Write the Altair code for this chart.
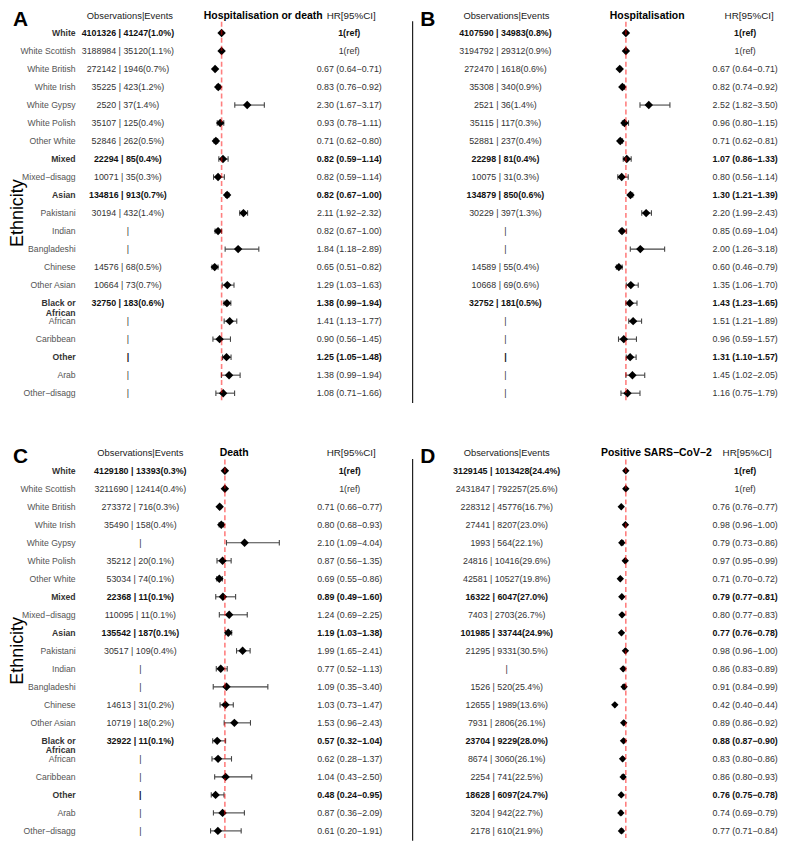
import altair as alt
import pandas as pd

# ---------------- data ----------------
labels = ["White", "White Scottish", "White British", "White Irish", "White Gypsy",
          "White Polish", "Other White", "Mixed", "Mixed\u2212disagg", "Asian",
          "Pakistani", "Indian", "Bangladeshi", "Chinese", "Other Asian",
          "Black or\nAfrican", "African", "Caribbean", "Other", "Arab", "Other\u2212disagg"]
bold_rows = [0, 7, 9, 15, 18]

# Panel A: Hospitalisation or death
A_obs = ["4101326 | 41247(1.0%)", "3188984 | 35120(1.1%)", "272142 | 1946(0.7%)",
         "35225 | 423(1.2%)", "2520 | 37(1.4%)", "35107 | 125(0.4%)", "52846 | 262(0.5%)",
         "22294 | 85(0.4%)", "10071 | 35(0.3%)", "134816 | 913(0.7%)", "30194 | 432(1.4%)",
         "|", "|", "14576 | 68(0.5%)", "10664 | 73(0.7%)", "32750 | 183(0.6%)",
         "|", "|", "|", "|", "|"]
A_hr = ["1(ref)", "1(ref)", "0.67 (0.64\u22120.71)", "0.83 (0.76\u22120.92)", "2.30 (1.67\u22123.17)",
        "0.93 (0.78\u22121.11)", "0.71 (0.62\u22120.80)", "0.82 (0.59\u22121.14)", "0.82 (0.59\u22121.14)",
        "0.82 (0.67\u22121.00)", "2.11 (1.92\u22122.32)", "0.82 (0.67\u22121.00)", "1.84 (1.18\u22122.89)",
        "0.65 (0.51\u22120.82)", "1.29 (1.03\u22121.63)", "1.38 (0.99\u22121.94)", "1.41 (1.13\u22121.77)",
        "0.90 (0.56\u22121.45)", "1.25 (1.05\u22121.48)", "1.38 (0.99\u22121.94)", "1.08 (0.71\u22121.66)"]
A_est = [1.00, 1.00, 0.67, 0.83, 2.30, 0.93, 0.71, 1.07, 0.82, 1.28, 2.11, 0.82, 1.84, 0.65, 1.29, 1.27, 1.41, 0.90, 1.25, 1.38, 1.08]
A_lo = [None, None, 0.64, 0.76, 1.67, 0.78, 0.62, 0.86, 0.59, 1.20, 1.92, 0.67, 1.18, 0.51, 1.03, 1.12, 1.13, 0.56, 1.05, 0.99, 0.71]
A_hi = [None, None, 0.71, 0.92, 3.17, 1.11, 0.80, 1.33, 1.14, 1.37, 2.32, 1.00, 2.89, 0.82, 1.63, 1.47, 1.77, 1.45, 1.48, 1.94, 1.66]

# Panel B: Hospitalisation
B_obs = ["4107590 | 34983(0.8%)", "3194792 | 29312(0.9%)", "272470 | 1618(0.6%)",
         "35308 | 340(0.9%)", "2521 | 36(1.4%)", "35115 | 117(0.3%)", "52881 | 237(0.4%)",
         "22298 | 81(0.4%)", "10075 | 31(0.3%)", "134879 | 850(0.6%)", "30229 | 397(1.3%)",
         "|", "|", "14589 | 55(0.4%)", "10668 | 69(0.6%)", "32752 | 181(0.5%)",
         "|", "|", "|", "|", "|"]
B_hr = ["1(ref)", "1(ref)", "0.67 (0.64\u22120.71)", "0.82 (0.74\u22120.92)", "2.52 (1.82\u22123.50)",
        "0.96 (0.80\u22121.15)", "0.71 (0.62\u22120.81)", "1.07 (0.86\u22121.33)", "0.80 (0.56\u22121.14)",
        "1.30 (1.21\u22121.39)", "2.20 (1.99\u22122.43)", "0.85 (0.69\u22121.04)", "2.00 (1.26\u22123.18)",
        "0.60 (0.46\u22120.79)", "1.35 (1.06\u22121.70)", "1.43 (1.23\u22121.65)", "1.51 (1.21\u22121.89)",
        "0.96 (0.59\u22121.57)", "1.31 (1.10\u22121.57)", "1.45 (1.02\u22122.05)", "1.16 (0.75\u22121.79)"]
B_est = [1.00, 1.00, 0.65, 0.80, 2.30, 0.92, 0.68, 1.05, 0.76, 1.26, 2.15, 0.78, 1.82, 0.60, 1.28, 1.22, 1.41, 0.88, 1.24, 1.37, 1.09]
B_lo = [None, None, 0.64, 0.74, 1.80, 0.80, 0.62, 0.85, 0.54, 1.21, 1.90, 0.69, 1.25, 0.46, 1.02, 1.00, 1.16, 0.58, 1.02, 1.00, 0.72]
B_hi = [None, None, 0.71, 0.92, 3.50, 1.15, 0.81, 1.30, 1.13, 1.39, 2.45, 1.04, 3.20, 0.79, 1.70, 1.63, 1.89, 1.60, 1.58, 2.07, 1.80]

# Panel C: Death
C_obs = ["4129180 | 13393(0.3%)", "3211690 | 12414(0.4%)", "273372 | 716(0.3%)",
         "35490 | 158(0.4%)", "|", "35212 | 20(0.1%)", "53034 | 74(0.1%)",
         "22368 | 11(0.1%)", "110095 | 11(0.1%)", "135542 | 187(0.1%)", "30517 | 109(0.4%)",
         "|", "|", "14613 | 31(0.2%)", "10719 | 18(0.2%)", "32922 | 11(0.1%)",
         "|", "|", "|", "|", "|"]
C_hr = ["1(ref)", "1(ref)", "0.71 (0.66\u22120.77)", "0.80 (0.68\u22120.93)", "2.10 (1.09\u22124.04)",
        "0.87 (0.56\u22121.35)", "0.69 (0.55\u22120.86)", "0.89 (0.49\u22121.60)", "1.24  (0.69\u22122.25)",
        "1.19 (1.03\u22121.38)", "1.99 (1.65\u22122.41)", "0.77 (0.52\u22121.13)", "1.09 (0.35\u22123.40)",
        "1.03 (0.73\u22121.47)", "1.53 (0.96\u22122.43)", "0.57 (0.32\u22121.04)", "0.62 (0.28\u22121.37)",
        "1.04 (0.43\u22122.50)", "0.48 (0.24\u22120.95)", "0.87 (0.36\u22122.09)", "0.61 (0.20\u22121.91)"]
C_est = [1.00, 1.00, 0.71, 0.80, 2.10, 0.87, 0.69, 0.89, 1.24, 1.19, 1.99, 0.77, 1.09, 1.03, 1.53, 0.57, 0.62, 1.04, 0.48, 0.87, 0.61]
C_lo = [None, None, 0.66, 0.68, 1.09, 0.56, 0.55, 0.49, 0.69, 1.03, 1.65, 0.52, 0.35, 0.73, 0.96, 0.32, 0.28, 0.43, 0.24, 0.36, 0.20]
C_hi = [None, None, 0.77, 0.93, 4.04, 1.35, 0.86, 1.60, 2.25, 1.38, 2.41, 1.13, 3.40, 1.47, 2.43, 1.04, 1.37, 2.50, 0.95, 2.09, 1.91]

# Panel D: Positive SARS-CoV-2
D_obs = ["3129145 | 1013428(24.4%)", "2431847 | 792257(25.6%)", "228312 | 45776(16.7%)",
         "27441 | 8207(23.0%)", "1993 | 564(22.1%)", "24816 | 10416(29.6%)", "42581 | 10527(19.8%)",
         "16322 | 6047(27.0%)", "7403 | 2703(26.7%)", "101985 | 33744(24.9%)", "21295 | 9331(30.5%)",
         "|", "1526 | 520(25.4%)", "12655 | 1989(13.6%)", "7931 | 2806(26.1%)", "23704 | 9229(28.0%)",
         "8674 | 3060(26.1%)", "2254 | 741(22.5%)", "18628 | 6097(24.7%)", "3204 | 942(22.7%)",
         "2178 | 610(21.9%)"]
D_hr = ["1(ref)", "1(ref)", "0.76 (0.76\u22120.77)", "0.98 (0.96\u22121.00)", "0.79 (0.73\u22120.86)",
        "0.97 (0.95\u22120.99)", "0.71 (0.70\u22120.72)", "0.79 (0.77\u22120.81)", "0.80 (0.77\u22120.83)",
        "0.77 (0.76\u22120.78)", "0.98 (0.96\u22121.00)", "0.86 (0.83\u22120.89)", "0.91 (0.84\u22120.99)",
        "0.42 (0.40\u22120.44)", "0.89 (0.86\u22120.92)", "0.88 (0.87\u22120.90)", "0.83 (0.80\u22120.86)",
        "0.86 (0.80\u22120.93)", "0.76 (0.75\u22120.78)", "0.74 (0.69\u22120.79)", "0.77 (0.71\u22120.84)"]
D_est = [1.00, 1.00, 0.76, 0.98, 0.79, 0.97, 0.71, 0.79, 0.80, 0.77, 0.98, 0.86, 0.91, 0.42, 0.89, 0.88, 0.83, 0.86, 0.76, 0.74, 0.77]
D_lo = [None, None, 0.76, 0.96, 0.73, 0.95, 0.70, 0.77, 0.77, 0.76, 0.96, 0.83, 0.84, 0.40, 0.86, 0.87, 0.80, 0.80, 0.75, 0.69, 0.71]
D_hi = [None, None, 0.77, 1.00, 0.86, 0.99, 0.72, 0.81, 0.83, 0.78, 1.00, 0.89, 0.99, 0.44, 0.92, 0.90, 0.86, 0.93, 0.78, 0.79, 0.84]

# ---------------- layout / style ----------------
FONT = "Liberation Sans"
W, H = 776, 834
STEP = 18.1
N = len(labels)
TILT = 0.01  # tiny rotation -> greyscale (not LCD) text antialiasing


def yscale(top):
    return alt.Scale(domain=[0, N - 1], range=[top, top + (N - 1) * STEP], zero=False, nice=False)


def xscale(x0, k):
    return alt.Scale(domain=[0, 5], range=[x0, x0 + 5 * k], zero=False, nice=False)


def text_style(color, size, weight="normal", angle=TILT):
    return dict(font=FONT, fontSize=size, fontWeight=weight, color=color, angle=angle)


def static_text(txt, x, y, size, weight="normal", color="#222222", angle=TILT):
    return alt.Chart(pd.DataFrame({"t": [txt]})).mark_text(
        align="center", baseline="middle",
        **text_style(color, size, weight, angle)
    ).encode(x=alt.value(x), y=alt.value(y), text="t:N")


def panel(letter, title, obs, est, lo, hi, hr, x0, k, obs_x, hr_x, title_x,
          hr_head_x, obs_head_x, row_top, head_y, letter_x, show_labels, axis_line,
          dsize):
    df = pd.DataFrame({
        "row": list(range(N)), "label": labels, "obs": obs, "est": est,
        "lo": lo, "hi": hi, "hr": hr,
        "bold": [1 if i in bold_rows else 0 for i in range(N)],
    })
    ys = yscale(row_top)
    xs = xscale(x0, k)
    Y = alt.Y("row:Q", scale=ys, axis=None)
    base = alt.Chart(df)
    layers = []

    for b in (0, 1):
        sub = base.transform_filter(alt.datum.bold == b)
        wt = "bold" if b else "normal"
        if show_labels:
            layers.append(sub.mark_text(
                align="right", baseline="middle", lineBreak="\n", lineHeight=9.5,
                **text_style("#333333" if b else "#555555", 8.7, wt)
            ).encode(x=alt.value(68), y=Y, text="label:N"))
        layers.append(sub.mark_text(
            align="center", baseline="middle",
            **text_style("#111111" if b else "#333333", 8.9, wt)
        ).encode(x=alt.value(obs_x), y=Y, text="obs:N"))
        layers.append(sub.mark_text(
            align="center", baseline="middle",
            **text_style("#111111" if b else "#333333", 8.9, wt)
        ).encode(x=alt.value(hr_x), y=Y, text="hr:N"))

    valid = base.transform_filter("isValid(datum.lo)")
    layers.append(valid.mark_rule(color="#444444", strokeWidth=1.1).encode(
        x=alt.X("lo:Q", scale=xs, axis=None), x2="hi:Q", y=Y))
    for f in ("lo", "hi"):
        layers.append(valid.mark_point(
            shape="M0,-1L0,1", size=30, filled=False, strokeWidth=1.1,
            color="#444444", opacity=1
        ).encode(x=alt.X(f + ":Q", scale=xs, axis=None), y=Y))
    layers.append(base.mark_point(
        shape="diamond", filled=True, size=dsize, color="black", opacity=1
    ).encode(x=alt.X("est:Q", scale=xs, axis=None), y=Y))

    ref = pd.DataFrame({"v": [1.0], "y1": [-0.62], "y2": [20.4]})
    layers.append(alt.Chart(ref).mark_rule(
        color="red", opacity=0.5, strokeWidth=1.6, strokeDash=[5, 3]
    ).encode(x=alt.X("v:Q", scale=xs, axis=None),
             y=alt.Y("y1:Q", scale=ys, axis=None), y2="y2:Q"))

    if axis_line:
        ax = pd.DataFrame({"y1": [-0.65], "y2": [20.55]})
        layers.append(alt.Chart(ax).mark_rule(color="#222222", strokeWidth=1.2).encode(
            x=alt.value(axis_line), y=alt.Y("y1:Q", scale=ys, axis=None), y2="y2:Q"))

    layers.append(static_text(letter, letter_x, head_y + 4, 21, "bold", "#000000"))
    layers.append(static_text("Observations|Events", obs_head_x, head_y, 9.4, "normal", "#222222"))
    layers.append(static_text(title, title_x, head_y, 10.5, "bold", "#000000"))
    layers.append(static_text("HR[95%CI]", hr_head_x, head_y, 9.9, "normal", "#222222"))
    if show_labels:
        layers.append(static_text("Ethnicity", 10, row_top + 10 * STEP, 18, "normal", "#000000", 270))
    return layers


all_layers = []
all_layers += panel("A", "Hospitalisation or death", A_obs, A_est, A_lo, A_hi, A_hr,
                    x0=194.9, k=19.8, obs_x=120.5, hr_x=343, title_x=256.5, hr_head_x=345,
                    obs_head_x=122.5, row_top=23, head_y=6, letter_x=12.5,
                    show_labels=True, axis_line=None, dsize=72)
all_layers += panel("B", "Hospitalisation", B_obs, B_est, B_lo, B_hi, B_hr,
                    x0=603.4, k=17.7, obs_x=500, hr_x=741, title_x=642.5, hr_head_x=745,
                    obs_head_x=501, row_top=23, head_y=6, letter_x=422,
                    show_labels=False, axis_line=406.7, dsize=72)
all_layers += panel("C", "Death", C_obs, C_est, C_lo, C_hi, C_hr,
                    x0=200, k=18, obs_x=133, hr_x=343.5, title_x=227.3, hr_head_x=345,
                    obs_head_x=133, row_top=463, head_y=445, letter_x=12.5,
                    show_labels=True, axis_line=None, dsize=72)
all_layers += panel("D", "Positive SARS\u2212CoV\u22122", D_obs, D_est, D_lo, D_hi, D_hr,
                    x0=602, k=19, obs_x=501.3, hr_x=741, title_x=651.7, hr_head_x=743,
                    obs_head_x=501.3, row_top=463, head_y=445, letter_x=422,
                    show_labels=False, axis_line=406.7, dsize=55)

chart = alt.layer(*all_layers).resolve_scale(
    x="independent", y="independent"
).properties(
    width=W, height=H, padding=0,
    autosize=alt.AutoSizeParams(type="none"),
    background="white"
).configure_view(stroke=None)

chart.save("out.html", embed_options={"renderer": "svg", "actions": False})
